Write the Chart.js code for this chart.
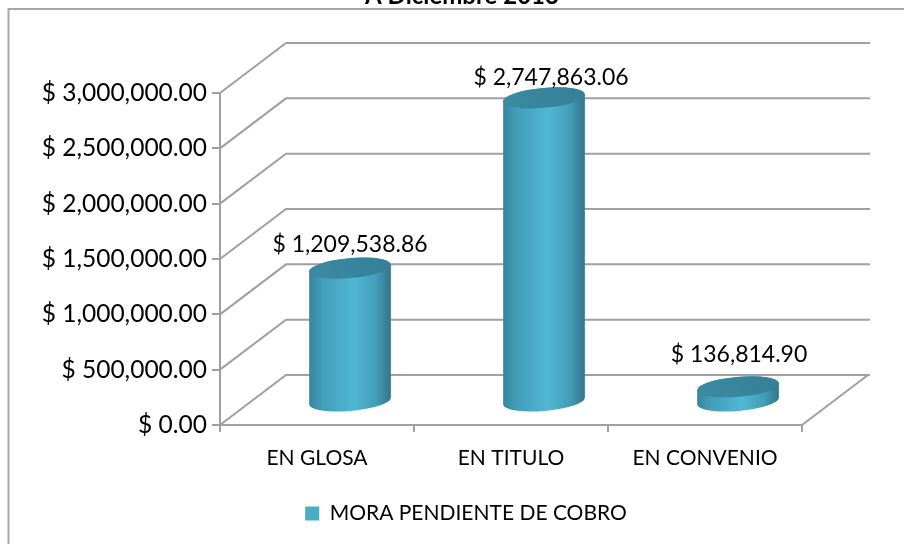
<!DOCTYPE html>
<html>
<head>
<meta charset="utf-8">
<script src="https://cdn.jsdelivr.net/npm/chart.js@4"></script>
<style>html,body{margin:0;padding:0;background:#fff;overflow:hidden}canvas{display:block}</style>
</head>
<body>
<div style="width:904px;height:544px"><canvas id="c" width="904" height="544"></canvas></div>
<script>
const titleText = "A Diciembre 2013";
const categories = ["EN GLOSA", "EN TITULO", "EN CONVENIO"];
const seriesName = "MORA PENDIENTE DE COBRO";
const seriesValues = [1209538.86, 2747863.06, 136814.90];

const FONT = "Lato, Carlito, sans-serif";
const GRID = "#a0a0a0";
const DEPTH_X = 66, DEPTH_Y = 50;
const LEGEND_SHIFT = 65, TITLE_SHIFT = 61;
const money = v => "$ " + Number(v).toLocaleString("en-US", {minimumFractionDigits: 2, maximumFractionDigits: 2});

const scene = {
  id: "scene",
  beforeDraw(chart) {
    const ctx = chart.ctx;
    ctx.save();
    ctx.strokeStyle = "#a8a8a8"; ctx.lineWidth = 2;
    ctx.beginPath(); ctx.moveTo(8.5, 544); ctx.lineTo(8.5, 9); ctx.lineTo(904, 9); ctx.stroke();
    chart.legend.left += LEGEND_SHIFT; chart.legend.right += LEGEND_SHIFT;
    chart.titleBlock.left += TITLE_SHIFT; chart.titleBlock.right += TITLE_SHIFT;
    ctx.restore();
  },
  afterDraw(chart) {
    chart.legend.left -= LEGEND_SHIFT; chart.legend.right -= LEGEND_SHIFT;
    chart.titleBlock.left -= TITLE_SHIFT; chart.titleBlock.right -= TITLE_SHIFT;
  },
  beforeDatasetsDraw(chart) {
    const {ctx, chartArea: a, scales: {y}} = chart;
    ctx.save();
    ctx.strokeStyle = GRID; ctx.lineWidth = 2; ctx.lineCap = "butt";
    y.ticks.forEach(t => {
      const py = y.getPixelForValue(t.value);
      ctx.beginPath();
      ctx.moveTo(a.left, py);
      ctx.lineTo(a.left + DEPTH_X, py - DEPTH_Y);
      ctx.lineTo(a.right + DEPTH_X + 2, py - DEPTH_Y);
      ctx.stroke();
    });
    const p0 = y.getPixelForValue(0);
    ctx.beginPath();
    ctx.moveTo(a.right, p0);
    ctx.lineTo(a.right + DEPTH_X, p0 - DEPTH_Y);
    ctx.stroke();
    ctx.restore();
  },
  beforeDatasetDraw(chart, args) {
    const ctx = chart.ctx;
    const meta = chart.getDatasetMeta(args.index);
    const RX = 41, RY = 10, ROT = -5 * Math.PI / 180;
    ctx.save();
    meta.data.forEach(bar => {
      const cx = bar.x + DEPTH_X / 2;
      const by = bar.base - 23;
      const ty = bar.y - 23;
      const g = ctx.createLinearGradient(cx - RX, 0, cx + RX, 0);
      g.addColorStop(0, "#37869f");
      g.addColorStop(0.18, "#429fba");
      g.addColorStop(0.55, "#50b7d3");
      g.addColorStop(0.82, "#439db8");
      g.addColorStop(1, "#347389");
      const dx = RX * Math.cos(ROT), dy = RX * Math.sin(ROT);
      ctx.beginPath();
      ctx.ellipse(cx, by, RX, RY, ROT, 0, Math.PI);
      ctx.lineTo(cx - dx, ty - dy);
      ctx.ellipse(cx, ty, RX, RY, ROT, Math.PI, 0, false);
      ctx.closePath();
      ctx.fillStyle = g; ctx.fill();
      const tg = ctx.createLinearGradient(cx - RX, 0, cx + RX, 0);
      tg.addColorStop(0, "#3b8aa3");
      tg.addColorStop(0.5, "#38859d");
      tg.addColorStop(1, "#367f97");
      ctx.beginPath();
      ctx.ellipse(cx, ty, RX, RY, ROT, 0, Math.PI * 2);
      ctx.fillStyle = tg; ctx.fill();
    });
    ctx.restore();
    return false;
  },
  afterDatasetsDraw(chart) {
    const {ctx} = chart;
    const meta = chart.getDatasetMeta(0);
    const lift = [47, 43, 55], shift = [33, 40, 34];
    ctx.save();
    ctx.font = "23px " + FONT;
    ctx.fillStyle = "#000";
    ctx.textAlign = "center"; ctx.textBaseline = "middle";
    meta.data.forEach((bar, i) => {
      ctx.fillText(money(seriesValues[i]), bar.x + shift[i], bar.y - lift[i]);
    });
    ctx.restore();
  }
};

new Chart(document.getElementById("c"), {
  type: "bar",
  data: {
    labels: categories,
    datasets: [{label: seriesName, data: seriesValues, backgroundColor: "#4bacc6", borderWidth: 0}]
  },
  plugins: [scene],
  options: {
    responsive: false,
    animation: false,
    events: [],
    layout: {padding: {left: 0, right: 102, top: 0, bottom: 10}},
    plugins: {
      tooltip: {enabled: false},
      title: {
        display: true, text: titleText, color: "#000",
        font: {family: FONT, size: 24, weight: "bold", lineHeight: 1},
        padding: {top: -16, bottom: 85}
      },
      legend: {
        position: "bottom",
        labels: {boxWidth: 14, boxHeight: 14, color: "#000", padding: 10, font: {family: FONT, size: 21}}
      }
    },
    scales: {
      x: {
        grid: {display: true, drawOnChartArea: false, drawTicks: true, tickLength: 7, color: GRID, lineWidth: 2, offset: true},
        border: {display: true, color: GRID, width: 2},
        ticks: {color: "#000", padding: 14, font: {family: FONT, size: 21}, maxRotation: 0},
        afterFit(s) { s.height = 68; }
      },
      y: {
        min: 0, max: 3000000,
        grid: {display: true, drawOnChartArea: false, drawTicks: true, tickLength: 8, color: GRID, lineWidth: 2},
        border: {display: true, color: GRID, width: 2},
        ticks: {stepSize: 500000, color: "#000", padding: 5, font: {family: FONT, size: 24.5}, callback: v => money(v)},
        afterFit(s) { s.width = 220; }
      }
    }
  }
});
</script>
</body>
</html>
